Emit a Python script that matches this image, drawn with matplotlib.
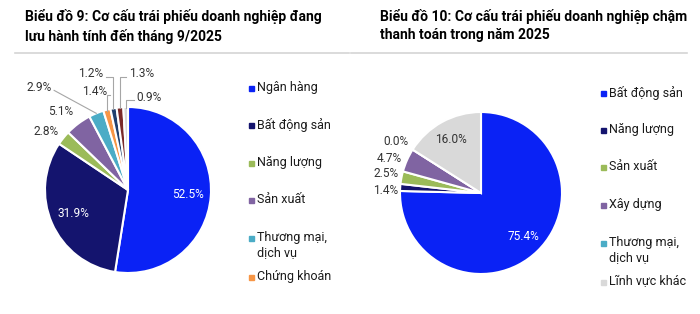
import numpy as np
import matplotlib
matplotlib.use("Agg")
from matplotlib import pyplot as plt

plt.rcParams['font.family'] = ['Roboto', 'DejaVu Sans']

# chart 9 data
cats9 = ['Ngân hàng', 'Bất động sản', 'Năng lượng', 'Sản xuất', 'Thương mại,\ndịch vụ',
         'Chứng khoán', 'Khác 1', 'Khác 2', 'Khác 3']
vals9 = [52.5, 31.9, 2.8, 5.1, 2.9, 1.4, 1.2, 1.3, 0.9]
cols9 = ['#0A22F5', '#14146E', '#9BBB59', '#8064A2', '#4BACC6', '#F79646',
         '#1F3F6E', '#7A2A2A', '#D9D9D9']
legend9 = 6  # only first 6 entries are visible in the legend

# chart 10 data
cats10 = ['Bất động sản', 'Năng lượng', 'Sản xuất', 'Xây dựng', 'Thương mại,\ndịch vụ',
          'Lĩnh vực khác']
vals10 = [75.4, 1.4, 2.5, 4.7, 0.0, 16.0]
cols10 = ['#0A22F5', '#14146E', '#9BBB59', '#8064A2', '#4BACC6', '#D9D9D9']

title9 = 'Biểu đồ 9: Cơ cấu trái phiếu doanh nghiệp đang\nlưu hành tính đến tháng 9/2025'
title10 = 'Biểu đồ 10: Cơ cấu trái phiếu doanh nghiệp chậm\nthanh toán trong năm 2025'

# label layout (in pie radius units): ('in', dist, color) or ('out', x, y, ha, leader)
lab9 = [('in', 0.72, 'white'), ('in', 0.72, 'white'),
        ('out', -0.84, 0.71, 'right', None),
        ('out', -0.66, 0.95, 'right', None),
        ('out', -0.92, 1.24, 'right', 'straight'),
        ('out', -0.25, 1.19, 'right', 'elbow'),
        ('out', -0.30, 1.40, 'right', 'elbow'),
        ('out', 0.01, 1.40, 'left', 'elbow'),
        ('out', 0.10, 1.12, 'left', 'elbow')]
lab10 = [('in', 0.75, 'white'),
         ('out', -1.02, 0.025, 'right', None),
         ('out', -1.02, 0.235, 'right', None),
         ('out', -0.975, 0.42, 'right', None),
         ('out', -0.90, 0.63, 'right', None),
         ('in', 0.76, '#333333')]

W, H = 700, 314
fig = plt.figure(figsize=(W / 100, H / 100), dpi=100)


def pie_axes(cx, cy, r, span=1.5):
    ax = fig.add_axes([(cx - span * r) / W, (H - cy - span * r) / H,
                       2 * span * r / W, 2 * span * r / H])
    return ax, span


def draw_pie(ax, span, vals, cols, labs):
    wedges, _ = ax.pie(vals, colors=cols, startangle=90, counterclock=False,
                       wedgeprops=dict(edgecolor='white', linewidth=1.5))
    ax.set_xlim(-span, span)
    ax.set_ylim(-span, span)
    ax.axis('off')
    for w, v, lab in zip(wedges, vals, labs):
        mid = np.deg2rad((w.theta1 + w.theta2) / 2)
        txt = '%.1f%%' % v
        if lab[0] == 'in':
            d = lab[1]
            ax.text(d * np.cos(mid), d * np.sin(mid), txt, ha='center', va='center',
                    color=lab[2], fontsize=8.6)
            continue
        _, tx, ty, ha, leader = lab
        ax.text(tx, ty, txt, ha=ha, va='center', color='#333333', fontsize=8.6)
        wx, wy = np.cos(mid), np.sin(mid)
        gap = 0.03 if ha == 'right' else -0.03
        ly = ty - 0.04
        if leader == 'straight':
            ax.plot([tx + gap, wx * 1.0], [ly, wy * 1.0], color='#A6A6A6', lw=0.8)
        elif leader == 'elbow':
            ax.plot([tx + gap, wx, wx], [ly, ly, wy * 0.99], color='#A6A6A6', lw=0.8)


def draw_legend(cats, cols, x, ys):
    for c, col, y in zip(cats, cols, ys):
        fig.patches.append(plt.Rectangle(((x) / W, 1 - (y + 2.5) / H), 5 / W, 5 / H,
                                         transform=fig.transFigure, color=col))
        fig.text((x + 8) / W, 1 - (y - 7) / H, c, ha='left', va='top', fontsize=9,
                 color='#1a1a1a', linespacing=1.25)


ax9, s9 = pie_axes(128, 190, 83)
draw_pie(ax9, s9, vals9, cols9, lab9)
ax10, s10 = pie_axes(481, 193, 81)
draw_pie(ax10, s10, vals10, cols10, lab10)

draw_legend(cats9[:legend9], cols9[:legend9], 249, [88, 125, 163, 200, 238, 277])
draw_legend(cats10, cols10, 601, [93, 130, 167, 205, 243, 282])

fig.text(25 / W, 1 - 9 / H, title9, ha='left', va='top', fontsize=10, fontweight='bold',
         color='black', linespacing=1.4)
fig.text(380 / W, 1 - 9 / H, title10, ha='left', va='top', fontsize=10, fontweight='bold',
         color='black', linespacing=1.4)
for x0, x1 in [(15, 349), (351, 687)]:
    fig.add_artist(plt.Line2D([x0 / W, x1 / W], [1 - 53 / H, 1 - 53 / H],
                              color='#D4D4D4', lw=1.2))

fig.savefig('out.png', dpi=100, facecolor='white')
